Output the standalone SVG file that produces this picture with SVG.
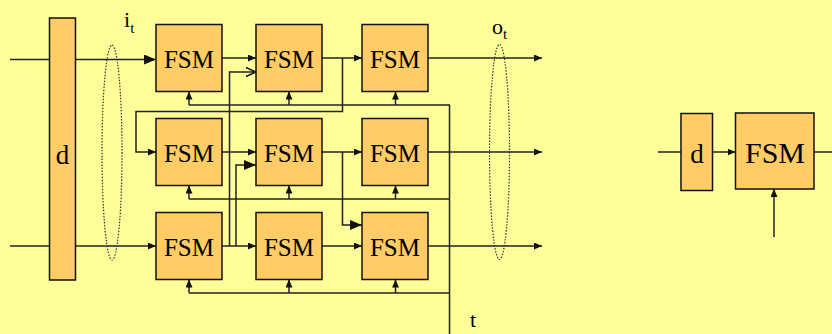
<svg xmlns="http://www.w3.org/2000/svg" width="832" height="334" viewBox="0 0 832 334">
<style>
.bg{fill:#FFFF99}
.box{fill:#FFCC66;stroke:#111;stroke-width:1.5}
.w{fill:none;stroke:#222;stroke-width:1.5}
.t{font-family:"Liberation Serif","Times New Roman",serif;fill:#000}
.fsm{font-size:25px;text-anchor:middle}
.ell{fill:none;stroke:#333;stroke-width:1.2;stroke-dasharray:1.5 1.5}
</style>
<defs>
<marker id="a" markerUnits="userSpaceOnUse" markerWidth="8" markerHeight="7" refX="8" refY="3.5" orient="auto"><path d="M0,0 L8,3.5 L0,7 z" fill="#111"/></marker>
<marker id="big" markerUnits="userSpaceOnUse" markerWidth="12" markerHeight="10" refX="12" refY="5" orient="auto"><path d="M0,0 L12,5 L0,10 z" fill="#111"/></marker>
<marker id="open" markerUnits="userSpaceOnUse" markerWidth="12" markerHeight="11" refX="11" refY="5.5" orient="auto"><path d="M1,1 L11,5.5 L1,10" fill="none" stroke="#111" stroke-width="1.5"/></marker>
</defs>
<rect class="bg" x="0" y="0" width="832" height="334"/>

<g id="connectors">
<path class="w" d="M10,59.5 H49.5"/>
<path class="w" d="M75.5,59.5 H156" marker-end="url(#big)"/>
<path class="w" d="M10,246 H49.5"/>
<path class="w" d="M75.5,246 H156" marker-end="url(#a)"/>
<path class="w" d="M222,58 H256" marker-end="url(#a)"/>
<path class="w" d="M222,152 H256" marker-end="url(#a)"/>
<path class="w" d="M222,246 H256" marker-end="url(#a)"/>
<path class="w" d="M229.5,246 V72 H256" marker-end="url(#open)"/>
<path class="w" d="M236,246 V165 H256" marker-end="url(#big)"/>
<path class="w" d="M322,58 H362" marker-end="url(#a)"/>
<path class="w" d="M322,152 H362" marker-end="url(#a)"/>
<path class="w" d="M322,246 H362" marker-end="url(#a)"/>
<path class="w" d="M342.5,58 V111.5 H136 V152 H156" marker-end="url(#a)"/>
<path class="w" d="M342.5,152 V225 H362" marker-end="url(#big)"/>
<path class="w" d="M428,58 H542" marker-end="url(#a)"/>
<path class="w" d="M428,152 H542" marker-end="url(#a)"/>
<path class="w" d="M428,246 H542" marker-end="url(#a)"/>
<path class="w" d="M449.5,334 V104.5"/>
<path class="w" d="M189,105 H449.5"/>
<path class="w" d="M189,199 H449.5"/>
<path class="w" d="M189,293 H449.5"/>
<path class="w" d="M189,105 V91.5" marker-end="url(#a)"/>
<path class="w" d="M289,105 V91.5" marker-end="url(#a)"/>
<path class="w" d="M395.5,105 V91.5" marker-end="url(#a)"/>
<path class="w" d="M189,199 V185.5" marker-end="url(#a)"/>
<path class="w" d="M289,199 V185.5" marker-end="url(#a)"/>
<path class="w" d="M395.5,199 V185.5" marker-end="url(#a)"/>
<path class="w" d="M189,293 V279.5" marker-end="url(#a)"/>
<path class="w" d="M289,293 V279.5" marker-end="url(#a)"/>
<path class="w" d="M395.5,293 V279.5" marker-end="url(#a)"/>
<path class="w" d="M658,152 H681"/>
<path class="w" d="M712.5,152 H735.5" marker-end="url(#a)"/>
<path class="w" d="M814,152 H832"/>
<path class="w" d="M774,237 V189" marker-end="url(#a)"/>
</g>

<g id="ellipses">
<ellipse class="ell" cx="112" cy="152.5" rx="10" ry="107.5"/>
<ellipse class="ell" cx="499.5" cy="152" rx="10" ry="107.5"/>
</g>

<g id="d-left">
<rect class="box" x="49.5" y="18" width="26" height="262"/>
<text class="t" x="62.5" y="164" font-size="27" text-anchor="middle">d</text>
</g>

<g id="fsm-r1c1"><rect class="box" x="156" y="24.5" width="66" height="67"/><text class="t fsm" x="189" y="68">FSM</text></g>
<g id="fsm-r1c2"><rect class="box" x="256" y="24.5" width="66" height="67"/><text class="t fsm" x="289" y="68">FSM</text></g>
<g id="fsm-r1c3"><rect class="box" x="362" y="24.5" width="66" height="67"/><text class="t fsm" x="395" y="68">FSM</text></g>
<g id="fsm-r2c1"><rect class="box" x="156" y="118.5" width="66" height="67"/><text class="t fsm" x="189" y="162">FSM</text></g>
<g id="fsm-r2c2"><rect class="box" x="256" y="118.5" width="66" height="67"/><text class="t fsm" x="289" y="162">FSM</text></g>
<g id="fsm-r2c3"><rect class="box" x="362" y="118.5" width="66" height="67"/><text class="t fsm" x="395" y="162">FSM</text></g>
<g id="fsm-r3c1"><rect class="box" x="156" y="212.5" width="66" height="67"/><text class="t fsm" x="189" y="256">FSM</text></g>
<g id="fsm-r3c2"><rect class="box" x="256" y="212.5" width="66" height="67"/><text class="t fsm" x="289" y="256">FSM</text></g>
<g id="fsm-r3c3"><rect class="box" x="362" y="212.5" width="66" height="67"/><text class="t fsm" x="395" y="256">FSM</text></g>

<g id="d-right">
<rect class="box" x="681" y="113.5" width="31.5" height="77"/>
<text class="t" x="697" y="163" font-size="27" text-anchor="middle">d</text>
</g>
<g id="fsm-right">
<rect class="box" x="735.5" y="113" width="78.5" height="76"/>
<text class="t" x="775" y="163" font-size="30" text-anchor="middle">FSM</text>
</g>

<g id="labels">
<text class="t" x="124" y="27" font-size="22">i<tspan font-size="15" dy="6">t</tspan></text>
<text class="t" x="492" y="34" font-size="22">o<tspan font-size="15" dy="5">t</tspan></text>
<text class="t" x="470" y="327" font-size="22">t</text>
</g>
</svg>
